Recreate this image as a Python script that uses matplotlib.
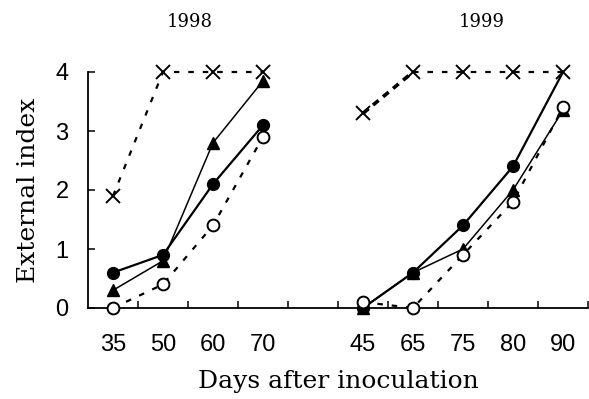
import matplotlib
matplotlib.use("Agg")
import matplotlib.pyplot as plt
from matplotlib import font_manager

# ---------------- data ----------------
days_1998 = ['35', '50', '60', '70']
days_1999 = ['45', '65', '75', '80', '90']
x_labels = days_1998 + [''] + days_1999
years = ['1998', '1999']

filled_1998 = [0.6, 0.9, 2.1, 3.1]
triangle_1998 = [0.3, 0.8, 2.8, 3.85]
open_1998 = [0.0, 0.4, 1.4, 2.9]
cross_1998 = [1.9, 4.0, 4.0, 4.0]

filled_1999 = [0.0, 0.6, 1.4, 2.4, 4.0]
triangle_1999 = [0.0, 0.6, 1.0, 2.0, 3.35]
open_1999 = [0.1, 0.0, 0.9, 1.8, 3.4]
cross_1999 = [3.3, 4.0, 4.0, 4.0, 4.0]

y_ticks = [0, 1, 2, 3, 4]

# ---------------- fonts ----------------
avail = {f.name for f in font_manager.fontManager.ttflist}
sans = ['Liberation Sans Narrow', 'Liberation Sans', 'DejaVu Sans']
sans = [f for f in sans if f in avail] or ['DejaVu Sans']
serif = ['DejaVu Serif']

fig = plt.figure(figsize=(5.89, 3.99), dpi=100)
W, H = 589, 399
ax = fig.add_axes([88 / W, 1 - 308 / H, 500 / W, (308 - 72) / H])

pos_1998 = [x_labels.index(d) for d in days_1998]
pos_1999 = [len(days_1998) + 1 + i for i in range(len(days_1999))]

dotted = (0, (2.5, 4))

def draw(pos, filled, tri, opn, cross, filled_markevery=None, thick_first=False):
    ax.plot(pos, tri, color='black', lw=1.1, marker='^', ms=8.5,
            markerfacecolor='black', markeredgecolor='black', clip_on=False, zorder=3)
    ax.plot(pos, filled, color='black', lw=1.6, marker='o', ms=8.5,
            markerfacecolor='black', markeredgecolor='black', clip_on=False, zorder=4,
            markevery=filled_markevery)
    ax.plot(pos, opn, color='black', lw=1.6, ls=dotted, marker='o', ms=8.5,
            markerfacecolor='white', markeredgecolor='black', mew=1.4,
            clip_on=False, zorder=5)
    if thick_first:
        ax.plot(pos[:2], cross[:2], color='black', lw=2.6, ls=(0, (2.0, 1.6)),
                clip_on=False, zorder=6)
        ax.plot(pos[1:], cross[1:], color='black', lw=1.6, ls=dotted,
                clip_on=False, zorder=6)
        ax.plot(pos, cross, ls='none', marker='x', ms=9.5, mew=1.4,
                markeredgecolor='black', clip_on=False, zorder=7)
    else:
        ax.plot(pos, cross, color='black', lw=1.6, ls=dotted, marker='x', ms=9.5,
                mew=1.4, markeredgecolor='black', clip_on=False, zorder=6)

draw(pos_1998, filled_1998, triangle_1998, open_1998, cross_1998)
draw(pos_1999, filled_1999, triangle_1999, open_1999, cross_1999,
     filled_markevery=[0, 1, 2, 3], thick_first=True)

ax.set_xlim(-0.5, len(x_labels) - 0.5)
ax.set_ylim(0, 4)

for s in ['top', 'right']:
    ax.spines[s].set_visible(False)
for s in ['left', 'bottom']:
    ax.spines[s].set_linewidth(1.3)

# boundaries as major ticks, labels on minor ticks
ax.set_xticks([i + 0.5 for i in range(len(x_labels))])
ax.set_xticklabels([])
ax.set_xticks(range(len(x_labels)), minor=True)
ax.set_xticklabels(x_labels, minor=True, family=sans, fontsize=17)
ax.tick_params(axis='x', which='major', direction='in', length=5, width=1.1)
ax.tick_params(axis='x', which='minor', length=0, pad=19)

ax.set_yticks(y_ticks)
ax.set_yticklabels([str(t) for t in y_ticks], family=sans, fontsize=17)
ax.tick_params(axis='y', direction='in', length=5, width=1.1, pad=14)

ax.set_xlabel('Days after inoculation', family=serif, fontsize=18, labelpad=10)
ax.set_ylabel('External index', family=serif, fontsize=18, labelpad=11)

fig.text(190 / W, 1 - 22 / H, years[0], family=serif, fontsize=13,
         ha='center', va='center')
fig.text(482 / W, 1 - 22 / H, years[1], family=serif, fontsize=13,
         ha='center', va='center')

fig.savefig('out.png', dpi=100)
